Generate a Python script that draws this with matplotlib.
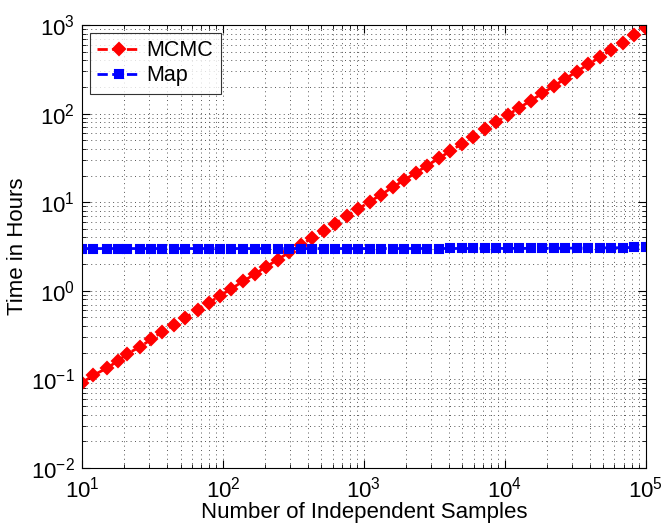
import numpy as np
import matplotlib
matplotlib.use('Agg')
from matplotlib import pyplot as plt
from matplotlib.ticker import LogLocator

plt.rcParams['font.family'] = ['Liberation Sans', 'DejaVu Sans']
plt.rcParams['mathtext.fontset'] = 'custom'
plt.rcParams['mathtext.rm'] = 'Liberation Sans'

# number of independent samples (log spaced)
samples = [10, 12, 15, 18, 21, 26, 31, 37, 45, 54, 66, 79, 95, 115, 139, 168,
           202, 244, 295, 356, 429, 518, 625, 754, 910, 1099, 1326, 1600, 1931,
           2330, 2812, 3393, 4095, 4942, 5964, 7197, 8685, 10481, 12649, 15264,
           18421, 22230, 26827, 32375, 39069, 47149, 56899, 68665, 82864, 100000]

# time in hours
mcmc_hours = [0.092, 0.111, 0.134, 0.162, 0.195, 0.235, 0.284, 0.343, 0.414,
              0.499, 0.603, 0.727, 0.878, 1.06, 1.28, 1.54, 1.86, 2.25, 2.71,
              3.27, 3.95, 4.77, 5.75, 6.94, 8.37, 10.1, 12.2, 14.7, 17.8, 21.4,
              25.9, 31.2, 37.7, 45.5, 54.9, 66.2, 79.9, 96.4, 116, 140, 169,
              205, 247, 298, 359, 434, 523, 632, 762, 920]
map_hours = [3.0, 3.0, 3.0, 3.0, 3.0, 3.0, 3.0, 3.0, 3.0, 3.0, 3.0, 3.0, 3.0,
             3.0, 3.0, 3.0, 3.0, 3.0, 3.0, 3.0, 3.0, 3.001, 3.001, 3.001,
             3.001, 3.001, 3.001, 3.002, 3.002, 3.002, 3.003, 3.003, 3.004,
             3.005, 3.006, 3.007, 3.009, 3.010, 3.013, 3.015, 3.018, 3.022,
             3.027, 3.032, 3.039, 3.047, 3.057, 3.069, 3.083, 3.10]

fig = plt.figure(figsize=(6.64, 5.29), dpi=100)
ax = fig.add_axes([0.1235, 0.1153, 0.849, 0.8374])

ax.loglog(samples, mcmc_hours, '--', color='red', lw=2, marker='D', ms=6.5,
          mfc='red', mec='red', mew=1.5, label='MCMC')
ax.loglog(samples, map_hours, '--', color='blue', lw=2, marker='s', ms=6,
          mfc='blue', mec='blue', mew=1.5, label='Map')

ax.set_xlim(10, 1e5)
ax.set_ylim(1e-2, 1e3)
ax.xaxis.set_minor_locator(LogLocator(subs=np.arange(2, 10)))
ax.yaxis.set_minor_locator(LogLocator(subs=np.arange(2, 10)))

ax.grid(True, which='both', linestyle=(0, (1, 3.5)), color='#555555', lw=0.7)
ax.tick_params(which='both', direction='in', top=True, right=True, labelsize=16)
ax.tick_params(which='major', length=6)
ax.tick_params(which='minor', length=3)
ax.tick_params(axis='x', pad=6)
ax.tick_params(axis='y', pad=5)

ax.set_xlabel('Number of Independent Samples', fontsize=16, labelpad=0)
ax.set_ylabel('Time in Hours', fontsize=16, labelpad=2)

leg = ax.legend(loc='upper left', fontsize=15.5, frameon=True, fancybox=False,
                borderaxespad=0.35, handlelength=2.0, handletextpad=0.3,
                borderpad=0.35, labelspacing=0.2)
leg.get_frame().set_edgecolor('black')
leg.get_frame().set_linewidth(0.8)

fig.savefig('out.png', dpi=100)
